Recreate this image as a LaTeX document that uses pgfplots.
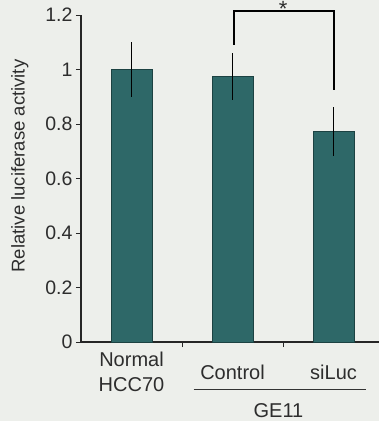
\documentclass[border=0pt]{standalone}
\usepackage{fontspec}
\setmainfont{Liberation Sans}
\usepackage{pgfplots}
\pgfplotsset{compat=1.18}
\definecolor{bg}{RGB}{237,239,235}
\definecolor{barfill}{RGB}{46,104,104}
\definecolor{baredge}{RGB}{28,66,66}
\definecolor{txt}{RGB}{45,45,45}
\begin{document}
\begin{tikzpicture}
\fill[bg] (-81pt,-79pt) rectangle (298pt,342pt);
\useasboundingbox (-81pt,-79pt) rectangle (298pt,342pt);
\begin{axis}[
  at={(0pt,0pt)}, anchor=south west,
  scale only axis, width=298pt, height=327pt,
  xmin=-0.5, xmax=2.45, ymin=0, ymax=1.2,
  axis x line=bottom, axis y line=left,
  axis line style={-, line width=1.2pt, black!85},
  clip=false,
  /pgf/number format/assume math mode=true,
  tick align=outside,
  major tick length=5pt,
  tick style={line width=1pt, black!85},
  ytick={0,0.2,0.4,0.6,0.8,1,1.2},
  yticklabels={0,0.2,0.4,0.6,0.8,1,1.2},
  yticklabel style={font=\fontsize{19.5}{21}\selectfont, text=txt},
  xtick={0.5,1.5,2.5},
  xticklabels={},
  extra x ticks={0,1,2},
  extra x tick labels={{Normal\\HCC70},Control,siLuc},
  extra x tick style={major tick length=0pt, tick style={draw=none},
    xticklabel style={align=center, anchor=center, yshift=-30pt,
      font=\fontsize{20}{25}\selectfont, text=txt}},
  ylabel={Relative luciferase activity},
  ylabel style={at={(axis description cs:-0.205,0.538)}, anchor=center,
    font=\fontsize{18.5}{20}\selectfont, text=txt},
]
\addplot[ybar, bar width=41pt, fill=barfill, draw=baredge, line width=0.6pt,
  error bars/.cd, y dir=both, y explicit,
  error bar style={line width=1.8pt, black}, error mark=none]
  coordinates {(0,1.0) +- (0,0.1) (1,0.974) +- (0,0.085) (2,0.772) +- (0,0.09)};
\addplot[black, line width=1.3pt, sharp plot, mark=none]
  coordinates {(1.015,1.09) (1.015,1.215) (2.005,1.215) (2.005,0.925)};
\node[font=\fontsize{22}{22}\selectfont, inner sep=0pt, anchor=base, text=txt]
  at (axis cs:1.5,1.196) {*};
\draw[line width=1pt, black!80] (axis cs:0.614,-0.176) -- (axis cs:2.317,-0.176);
\node[font=\fontsize{20}{22}\selectfont, text=txt, inner sep=0pt] at (axis cs:1.455,-0.253) {GE11};
\end{axis}
\end{tikzpicture}
\end{document}
